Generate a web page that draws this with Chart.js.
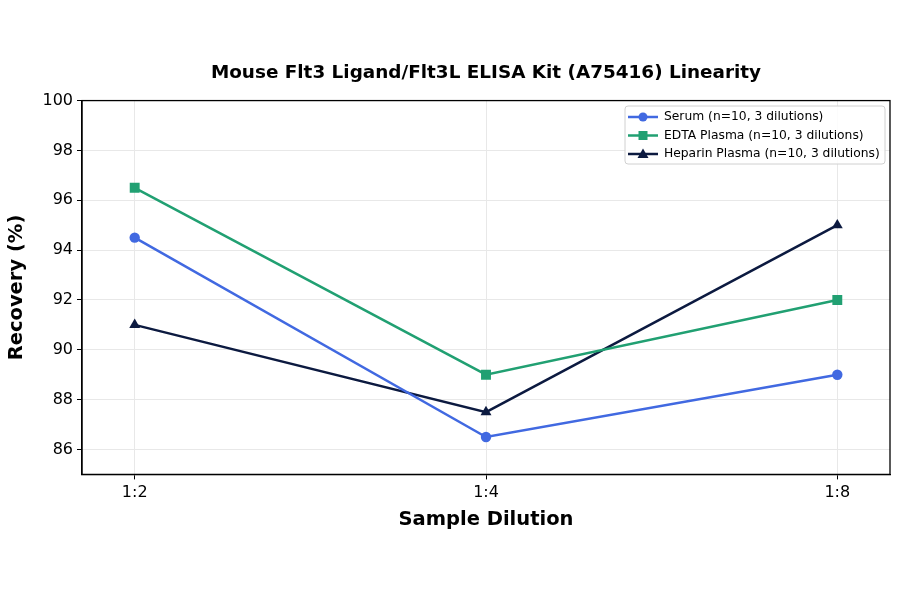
<!DOCTYPE html>
<html>
<head>
<meta charset="utf-8">
<script src="https://cdn.jsdelivr.net/npm/chart.js@4/dist/chart.umd.min.js"></script>
<style>
  html, body { margin: 0; padding: 0; background: #fff; }
  #wrap { width: 900px; height: 594px; }
</style>
</head>
<body>
<div id="wrap"><canvas id="linearityChart"></canvas></div>
<script>
const dilutions = ['1:2', '1:4', '1:8'];
const serum = [94.5, 86.5, 89.0];
const edtaPlasma = [96.5, 89.0, 92.0];
const heparinPlasma = [91.0, 87.5, 95.0];
const yTicks = [86, 88, 90, 92, 94, 96, 98, 100];

const FONT = "'DejaVu Sans', sans-serif";

function toPoints(values) {
    return values.map((v, i) => ({ x: i, y: v }));
}

// border round the plot area and the legend box inside it
const frameAndLegend = {
    id: 'frameAndLegend',
    afterDraw(chart) {
        const { ctx, chartArea } = chart;
        ctx.save();
        ctx.strokeStyle = '#000';
        ctx.lineWidth = 1.3;
        ctx.strokeRect(chartArea.left, chartArea.top, chartArea.right - chartArea.left, chartArea.bottom - chartArea.top);

        const bx = 625, by = 106, bw = 260, bh = 58;
        ctx.fillStyle = 'rgba(255,255,255,0.85)';
        ctx.strokeStyle = '#d0d0d0';
        ctx.lineWidth = 1;
        ctx.beginPath();
        ctx.roundRect(bx, by, bw, bh, 3);
        ctx.fill();
        ctx.stroke();

        ctx.font = '12.3px ' + FONT;
        ctx.textBaseline = 'middle';
        chart.data.datasets.forEach((ds, i) => {
            const y = by + 11 + i * 18.5;
            ctx.strokeStyle = ds.borderColor;
            ctx.lineWidth = 2.5;
            ctx.beginPath();
            ctx.moveTo(bx + 3, y);
            ctx.lineTo(bx + 33, y);
            ctx.stroke();
            ctx.fillStyle = ds.backgroundColor;
            const cx = bx + 18;
            ctx.beginPath();
            if (ds.pointStyle === 'circle') {
                ctx.arc(cx, y, 4.5, 0, Math.PI * 2);
            } else if (ds.pointStyle === 'rect') {
                ctx.rect(cx - 4.5, y - 4.5, 9, 9);
            } else {
                ctx.moveTo(cx, y - 5.5);
                ctx.lineTo(cx + 5.5, y + 4);
                ctx.lineTo(cx - 5.5, y + 4);
                ctx.closePath();
            }
            ctx.fill();
            ctx.fillStyle = '#000';
            ctx.fillText(ds.label, bx + 39, y);
        });
        ctx.restore();
    }
};

function makeDataset(label, values, color, style, radius) {
    return {
        label: label,
        data: toPoints(values),
        borderColor: color,
        backgroundColor: color,
        borderWidth: 2.5,
        pointStyle: style,
        pointRadius: radius,
        pointHoverRadius: radius,
        pointBorderWidth: 0,
        tension: 0
    };
}

function renderChart() {
    const ctx = document.getElementById('linearityChart').getContext('2d');
    new Chart(ctx, {
        type: 'line',
        data: {
            datasets: [
                makeDataset('Serum (n=10, 3 dilutions)', serum, '#4169e1', 'circle', 5.2),
                makeDataset('EDTA Plasma (n=10, 3 dilutions)', edtaPlasma, '#21a072', 'rect', 7),
                makeDataset('Heparin Plasma (n=10, 3 dilutions)', heparinPlasma, '#0c1a40', 'triangle', 6.3)
            ]
        },
        options: {
            responsive: true,
            maintainAspectRatio: false,
            animation: false,
            layout: { padding: { top: 0, right: 10, bottom: 62, left: 0 } },
            plugins: {
                legend: { display: false },
                tooltip: { enabled: false },
                title: {
                    display: true,
                    fullSize: false,
                    text: 'Mouse Flt3 Ligand/Flt3L ELISA Kit (A75416) Linearity',
                    color: '#000',
                    font: { family: FONT, size: 18.4, weight: 'bold', lineHeight: 1.2 },
                    padding: { top: 62, bottom: 16.5 }
                }
            },
            scales: {
                x: {
                    type: 'linear',
                    min: -0.15,
                    max: 2.15,
                    afterBuildTicks(axis) {
                        axis.ticks = dilutions.map((d, i) => ({ value: i }));
                    },
                    ticks: {
                        color: '#000',
                        font: { family: FONT, size: 16 },
                        padding: 4,
                        callback: (value) => dilutions[value]
                    },
                    grid: { color: '#e8e8e8', tickColor: '#000', tickLength: 5, lineWidth: 1 },
                    border: { color: '#000', width: 1.3 },
                    title: {
                        display: true,
                        text: 'Sample Dilution',
                        color: '#000',
                        font: { family: FONT, size: 19.5, weight: 'bold' },
                        padding: { top: 2, bottom: 0 }
                    }
                },
                y: {
                    min: 85,
                    max: 100,
                    afterBuildTicks(axis) {
                        axis.ticks = yTicks.map(v => ({ value: v }));
                    },
                    afterFit(axis) { axis.width = 82; },
                    ticks: {
                        color: '#000',
                        font: { family: FONT, size: 16 },
                        padding: 4
                    },
                    grid: { color: '#e8e8e8', tickColor: '#000', tickLength: 5, lineWidth: 1 },
                    border: { color: '#000', width: 1.3 },
                    title: {
                        display: true,
                        text: 'Recovery (%)',
                        color: '#000',
                        font: { family: FONT, size: 19.5, weight: 'bold' },
                        padding: { top: 5, bottom: 0 }
                    }
                }
            }
        },
        plugins: [frameAndLegend]
    });
}

document.addEventListener('DOMContentLoaded', renderChart);
</script>
</body>
</html>
